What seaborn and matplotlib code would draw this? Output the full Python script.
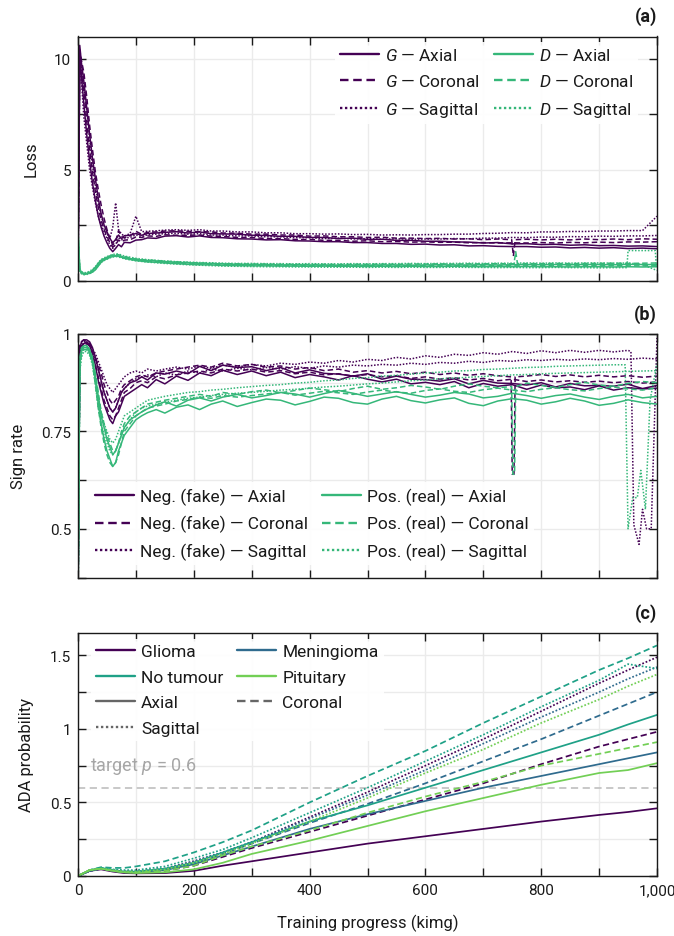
import matplotlib
matplotlib.use("Agg")
import matplotlib.pyplot as plt
import pandas as pd
import seaborn as sns
from matplotlib.lines import Line2D
from matplotlib.ticker import FuncFormatter, MultipleLocator

# ---------------------------------------------------------------- data
# training progress (kimg) at which the loss / sign-rate curves are sampled
KIMG = [0, 3, 6, 10, 15, 20, 25, 30, 35, 40,
        45, 50, 55, 60, 65, 70, 75, 80, 90, 100,
        110, 120, 135, 150, 170, 190, 210, 230, 250, 275,
        300, 325, 350, 375, 400, 425, 450, 475, 500, 525,
        550, 575, 600, 625, 650, 675, 700, 725, 750, 775,
        800, 825, 850, 875, 900, 925, 950, 975, 1000]

# (a) generator loss, two runs per plane
G_AXIAL_1 = [0.3, 10.1, 9.2, 8.0, 6.6, 5.4, 4.4, 3.6, 2.9, 2.4,
             2.0, 1.7, 1.45, 1.3, 1.45, 1.62, 1.52, 1.72, 1.7, 1.82,
             1.84, 1.92, 1.9, 2.0, 2.02, 1.96, 2.01, 1.94, 1.93, 1.88,
             1.87, 1.83, 1.84, 1.79, 1.78, 1.75, 1.75, 1.71, 1.71, 1.67,
             1.67, 1.63, 1.64, 1.6, 1.61, 1.56, 1.57, 1.54, 1.53, 1.53,
             1.5, 1.51, 1.47, 1.49, 1.46, 1.48, 1.44, 1.46, 1.43]
G_AXIAL_2 = [0.2, 10.6, 9.8, 9.0, 7.8, 6.6, 5.5, 4.6, 3.7, 3.0,
             2.5, 2.2, 1.9, 1.7, 1.85, 2.05, 1.88, 2.02, 2.04, 2.12,
             2.04, 2.12, 2.14, 2.17, 2.2, 2.14, 2.19, 2.11, 2.1, 2.09,
             2.04, 2.03, 1.99, 1.99, 1.94, 1.94, 1.89, 1.91, 1.85, 1.86,
             1.81, 1.81, 1.77, 1.77, 1.74, 1.73, 1.69, 1.71, 1.65, 1.66,
             1.62, 1.63, 1.59, 1.61, 1.57, 1.58, 1.55, 1.56, 1.53]
G_CORONAL_1 = [0.3, 10.4, 9.9, 9.4, 8.3, 7.0, 5.9, 4.9, 4.1, 3.4,
               2.8, 2.3, 1.9, 1.6, 1.75, 2.25, 1.98, 1.92, 2.02, 2.22,
               2.08, 2.17, 2.19, 2.23, 2.24, 2.21, 2.2, 2.19, 2.14, 2.13,
               2.09, 2.09, 2.05, 2.05, 2.0, 2.01, 1.97, 1.97, 1.94, 1.95,
               1.91, 1.91, 1.89, 1.9, 1.87, 1.88, 1.84, 1.87, 1.84, 1.86,
               1.83, 1.86, 1.83, 1.87, 1.84, 1.87, 1.84, 1.88, 1.86]
G_CORONAL_2 = [0.4, 9.6, 9.3, 8.6, 7.2, 5.9, 4.9, 4.0, 3.3, 2.7,
               2.3, 2.0, 1.7, 1.5, 1.62, 1.82, 1.74, 1.82, 1.84, 1.96,
               1.94, 2.01, 1.99, 2.06, 2.04, 2.04, 2.05, 2.0, 1.99, 1.94,
               1.94, 1.89, 1.89, 1.85, 1.85, 1.81, 1.81, 1.77, 1.79, 1.75,
               1.76, 1.73, 1.74, 1.72, 1.73, 1.7, 1.71, 1.69, 1.7, 1.69,
               1.71, 1.69, 1.72, 1.7, 1.73, 1.71, 1.74, 1.73, 1.75]
G_SAGITTAL_1 = [0.2, 10.2, 9.6, 8.8, 7.7, 6.4, 5.2, 4.3, 3.5, 2.9,
                2.5, 2.1, 1.9, 2.4, 3.5, 2.3, 2.1, 2.0, 2.12, 2.9,
                2.2, 2.22, 2.24, 2.27, 2.29, 2.26, 2.29, 2.23, 2.23, 2.19,
                2.19, 2.15, 2.15, 2.11, 2.11, 2.09, 2.1, 2.07, 2.08, 2.05,
                2.06, 2.05, 2.07, 2.07, 2.09, 2.09, 2.12, 2.13, 2.16, 2.15,
                2.19, 2.19, 2.21, 2.21, 2.23, 2.23, 2.25, 2.25, 2.9]
G_SAGITTAL_2 = [0.3, 9.9, 9.0, 7.4, 6.2, 5.0, 4.2, 3.5, 2.9, 2.5,
                2.2, 1.9, 1.6, 1.45, 1.62, 1.92, 1.84, 1.92, 1.94, 2.06,
                1.99, 2.06, 2.09, 2.11, 2.13, 2.09, 2.11, 2.05, 2.05, 2.01,
                2.01, 1.97, 1.97, 1.93, 1.93, 1.89, 1.91, 1.87, 1.89, 1.86,
                1.88, 1.86, 1.87, 1.87, 1.89, 1.88, 1.91, 1.91, 1.94, 1.93,
                1.96, 1.95, 1.98, 1.97, 2.0, 1.99, 2.01, 2.01, 2.03]

# (a) discriminator loss
D_AXIAL_1 = [2.2, 0.45, 0.33, 0.28, 0.3, 0.36, 0.45, 0.6, 0.78, 0.92,
             0.98, 1.05, 1.1, 1.14, 1.12, 1.1, 1.05, 1.02, 0.98, 0.95,
             0.92, 0.9, 0.88, 0.85, 0.82, 0.8, 0.78, 0.76, 0.75, 0.73,
             0.72, 0.72, 0.7, 0.71, 0.7, 0.7, 0.69, 0.7, 0.69, 0.7,
             0.7, 0.69, 0.7, 0.71, 0.7, 0.7, 0.71, 0.7, 0.71, 0.72,
             0.71, 0.72, 0.71, 0.72, 0.72, 0.71, 0.73, 0.72, 0.72]
D_AXIAL_2 = [2.0, 0.5, 0.38, 0.32, 0.31, 0.33, 0.38, 0.48, 0.65, 0.82,
             0.92, 0.98, 1.04, 1.08, 1.1, 1.09, 1.06, 1.0, 0.95, 0.9,
             0.87, 0.84, 0.82, 0.79, 0.76, 0.73, 0.71, 0.7, 0.68, 0.67,
             0.66, 0.66, 0.65, 0.65, 0.64, 0.65, 0.64, 0.64, 0.63, 0.64,
             0.63, 0.64, 0.63, 0.63, 0.64, 0.63, 0.62, 0.63, 0.62, 0.63,
             0.62, 0.62, 0.61, 0.62, 0.62, 0.61, 0.62, 0.61, 0.62]
D_CORONAL_1 = [2.3, 0.55, 0.36, 0.3, 0.29, 0.32, 0.4, 0.52, 0.7, 0.86,
               0.96, 1.04, 1.1, 1.15, 1.18, 1.16, 1.12, 1.08, 1.02, 0.97,
               0.94, 0.92, 0.9, 0.87, 0.84, 0.81, 0.79, 0.77, 0.76, 0.75,
               0.74, 0.74, 0.73, 0.73, 0.72, 0.73, 0.72, 0.73, 0.73, 0.74,
               0.73, 0.74, 0.74, 0.75, 0.74, 0.75, 0.75, 0.76, 0.75, 0.76,
               0.76, 0.77, 0.76, 0.77, 0.77, 0.78, 0.77, 0.78, 0.79]
D_CORONAL_2 = [2.1, 0.48, 0.34, 0.3, 0.32, 0.38, 0.46, 0.58, 0.74, 0.88,
               0.95, 1.0, 1.06, 1.1, 1.12, 1.12, 1.08, 1.04, 0.99, 0.95,
               0.91, 0.89, 0.86, 0.83, 0.8, 0.77, 0.75, 0.73, 0.71, 0.7,
               0.69, 0.68, 0.68, 0.67, 0.67, 0.66, 0.67, 0.66, 0.66, 0.67,
               0.66, 0.66, 0.67, 0.66, 0.66, 0.67, 0.66, 0.67, 0.66, 0.66,
               0.67, 0.66, 0.66, 0.67, 0.66, 0.67, 0.66, 0.66, 0.67]
D_SAGITTAL_1 = [2.2, 0.42, 0.3, 0.26, 0.27, 0.31, 0.38, 0.5, 0.66, 0.82,
                0.9, 0.96, 1.02, 1.06, 1.08, 1.06, 1.02, 0.98, 0.93, 0.89,
                0.86, 0.83, 0.8, 0.77, 0.74, 0.71, 0.69, 0.67, 0.65, 0.64,
                0.63, 0.62, 0.62, 0.61, 0.61, 0.6, 0.6, 0.6, 0.59, 0.6,
                0.59, 0.6, 0.59, 0.59, 0.6, 0.59, 0.59, 0.58, 0.59, 0.58,
                0.58, 0.59, 0.58, 0.58, 0.57, 0.58, 0.57, 0.57, 0.56]
D_SAGITTAL_2 = [2.4, 0.52, 0.4, 0.35, 0.36, 0.42, 0.5, 0.62, 0.8, 0.95,
                1.02, 1.08, 1.13, 1.17, 1.2, 1.19, 1.15, 1.1, 1.05, 1.0,
                0.97, 0.94, 0.91, 0.88, 0.85, 0.83, 0.81, 0.8, 0.78, 0.77,
                0.77, 0.76, 0.76, 0.75, 0.76, 0.75, 0.75, 0.76, 0.75, 0.76,
                0.76, 0.77, 0.76, 0.77, 0.77, 0.78, 0.77, 0.78, 0.78, 0.79,
                0.78, 0.79, 0.78, 0.79, 0.79, 0.78, 0.79, 0.72, 0.45]

# (b) discriminator sign rate on fake images
NEG_AXIAL_1 = [0.3, 0.95, 0.97, 0.975, 0.98, 0.97, 0.95, 0.92, 0.88, 0.85,
               0.82, 0.8, 0.78, 0.77, 0.79, 0.8, 0.82, 0.84, 0.85, 0.86,
               0.87, 0.862, 0.883, 0.872, 0.892, 0.881, 0.9, 0.893, 0.907, 0.896,
               0.905, 0.893, 0.902, 0.888, 0.896, 0.89, 0.882, 0.893, 0.884, 0.877,
               0.884, 0.872, 0.876, 0.87, 0.878, 0.862, 0.873, 0.866, 0.87, 0.858,
               0.869, 0.862, 0.864, 0.857, 0.867, 0.856, 0.862, 0.859, 0.861]
NEG_AXIAL_2 = [0.3, 0.96, 0.98, 0.985, 0.985, 0.98, 0.965, 0.94, 0.91, 0.88,
               0.85, 0.83, 0.81, 0.8, 0.81, 0.83, 0.85, 0.86, 0.875, 0.88,
               0.89, 0.882, 0.9, 0.897, 0.905, 0.898, 0.917, 0.906, 0.92, 0.914,
               0.916, 0.906, 0.914, 0.9, 0.908, 0.899, 0.897, 0.892, 0.898, 0.884,
               0.892, 0.884, 0.883, 0.879, 0.885, 0.872, 0.881, 0.874, 0.873, 0.869,
               0.875, 0.864, 0.873, 0.867, 0.868, 0.866, 0.871, 0.86, 0.868]
NEG_CORONAL_1 = [0.3, 0.97, 0.98, 0.985, 0.98, 0.975, 0.96, 0.94, 0.92, 0.9,
                 0.87, 0.85, 0.83, 0.82, 0.83, 0.84, 0.86, 0.87, 0.88, 0.89,
                 0.895, 0.89, 0.9, 0.905, 0.91, 0.915, 0.92, 0.915, 0.925, 0.918,
                 0.922, 0.915, 0.918, 0.91, 0.914, 0.906, 0.91, 0.902, 0.906, 0.9,
                 0.904, 0.898, 0.902, 0.896, 0.9, 0.894, 0.898, 0.893, 0.897, 0.892,
                 0.896, 0.891, 0.895, 0.89, 0.894, 0.89, 0.893, 0.889, 0.892]
NEG_CORONAL_2 = [0.3, 0.94, 0.965, 0.975, 0.975, 0.97, 0.95, 0.92, 0.89, 0.86,
                 0.83, 0.81, 0.79, 0.78, 0.79, 0.81, 0.83, 0.85, 0.86, 0.875,
                 0.88, 0.875, 0.89, 0.885, 0.895, 0.9, 0.905, 0.9, 0.91, 0.905,
                 0.91, 0.902, 0.906, 0.898, 0.902, 0.895, 0.898, 0.892, 0.896, 0.89,
                 0.893, 0.886, 0.89, 0.884, 0.888, 0.882, 0.886, 0.88, 0.884, 0.878,
                 0.882, 0.877, 0.88, 0.876, 0.879, 0.875, 0.878, 0.874, 0.877]
NEG_SAGITTAL_1 = [0.3, 0.96, 0.975, 0.98, 0.98, 0.975, 0.96, 0.95, 0.93, 0.91,
                  0.89, 0.87, 0.86, 0.85, 0.86, 0.87, 0.88, 0.89, 0.9, 0.905,
                  0.9, 0.91, 0.905, 0.91, 0.915, 0.91, 0.918, 0.912, 0.92, 0.915,
                  0.922, 0.918, 0.925, 0.922, 0.928, 0.925, 0.932, 0.928, 0.935, 0.932,
                  0.94, 0.936, 0.944, 0.94, 0.948, 0.945, 0.952, 0.948, 0.955, 0.95,
                  0.957, 0.952, 0.958, 0.953, 0.958, 0.954, 0.958, 0.955, 0.957]
NEG_SAGITTAL_2 = [0.3, 0.95, 0.97, 0.975, 0.975, 0.97, 0.955, 0.935, 0.91, 0.88,
                  0.85, 0.83, 0.81, 0.8, 0.81, 0.83, 0.85, 0.86, 0.875, 0.885,
                  0.89, 0.895, 0.89, 0.9, 0.895, 0.905, 0.9, 0.91, 0.905, 0.912,
                  0.908, 0.914, 0.91, 0.916, 0.912, 0.918, 0.915, 0.92, 0.918, 0.922,
                  0.92, 0.925, 0.922, 0.927, 0.925, 0.93, 0.927, 0.932, 0.93, 0.934,
                  0.932, 0.935, 0.933, 0.936, 0.934, 0.937, 0.935, 0.938, 0.936]

# (b) discriminator sign rate on real images
POS_AXIAL_1 = [0.3, 0.92, 0.955, 0.965, 0.965, 0.955, 0.93, 0.88, 0.82, 0.77,
               0.73, 0.7, 0.68, 0.66, 0.67, 0.7, 0.72, 0.74, 0.76, 0.78,
               0.79, 0.798, 0.806, 0.797, 0.812, 0.818, 0.806, 0.82, 0.828, 0.814,
               0.824, 0.833, 0.83, 0.818, 0.827, 0.838, 0.835, 0.824, 0.82, 0.833,
               0.84, 0.829, 0.823, 0.831, 0.836, 0.822, 0.816, 0.828, 0.834, 0.83,
               0.82, 0.826, 0.835, 0.828, 0.817, 0.822, 0.831, 0.824, 0.82]
POS_AXIAL_2 = [0.3, 0.93, 0.96, 0.97, 0.97, 0.96, 0.935, 0.89, 0.84, 0.79,
               0.76, 0.73, 0.71, 0.69, 0.7, 0.72, 0.74, 0.76, 0.78, 0.79,
               0.8, 0.808, 0.818, 0.826, 0.815, 0.83, 0.836, 0.828, 0.838, 0.845,
               0.836, 0.842, 0.85, 0.846, 0.838, 0.847, 0.855, 0.848, 0.84, 0.846,
               0.852, 0.845, 0.838, 0.843, 0.85, 0.846, 0.836, 0.84, 0.848, 0.842,
               0.835, 0.842, 0.846, 0.838, 0.832, 0.84, 0.845, 0.836, 0.84]
POS_CORONAL_1 = [0.3, 0.94, 0.965, 0.97, 0.97, 0.96, 0.94, 0.9, 0.85, 0.8,
                 0.77, 0.74, 0.72, 0.7, 0.7, 0.72, 0.75, 0.77, 0.79, 0.8,
                 0.81, 0.82, 0.825, 0.83, 0.835, 0.84, 0.845, 0.84, 0.85, 0.845,
                 0.852, 0.856, 0.849, 0.855, 0.861, 0.857, 0.852, 0.86, 0.866, 0.858,
                 0.862, 0.868, 0.864, 0.858, 0.866, 0.872, 0.866, 0.862, 0.87, 0.874,
                 0.868, 0.863, 0.87, 0.876, 0.869, 0.866, 0.873, 0.878, 0.875]
POS_CORONAL_2 = [0.3, 0.91, 0.95, 0.96, 0.96, 0.95, 0.925, 0.87, 0.81, 0.76,
                 0.72, 0.69, 0.67, 0.66, 0.67, 0.69, 0.72, 0.75, 0.77, 0.79,
                 0.8, 0.81, 0.815, 0.82, 0.828, 0.832, 0.838, 0.835, 0.842, 0.838,
                 0.842, 0.846, 0.85, 0.843, 0.848, 0.853, 0.849, 0.845, 0.851, 0.856,
                 0.851, 0.848, 0.855, 0.859, 0.853, 0.85, 0.857, 0.861, 0.856, 0.852,
                 0.858, 0.862, 0.857, 0.854, 0.86, 0.864, 0.859, 0.856, 0.862]
POS_SAGITTAL_1 = [0.3, 0.92, 0.95, 0.96, 0.96, 0.95, 0.93, 0.89, 0.84, 0.8,
                  0.77, 0.75, 0.73, 0.72, 0.73, 0.75, 0.77, 0.79, 0.8, 0.81,
                  0.82, 0.83, 0.835, 0.84, 0.845, 0.85, 0.852, 0.856, 0.858, 0.862,
                  0.865, 0.868, 0.87, 0.874, 0.876, 0.88, 0.882, 0.886, 0.888, 0.892,
                  0.894, 0.897, 0.9, 0.902, 0.905, 0.906, 0.909, 0.91, 0.912, 0.914,
                  0.915, 0.917, 0.918, 0.919, 0.92, 0.921, 0.922, 0.923, 0.924]
POS_SAGITTAL_2 = [0.3, 0.9, 0.94, 0.955, 0.955, 0.945, 0.92, 0.87, 0.81, 0.77,
                  0.74, 0.72, 0.7, 0.69, 0.7, 0.72, 0.74, 0.76, 0.78, 0.8,
                  0.81, 0.815, 0.82, 0.825, 0.83, 0.835, 0.838, 0.842, 0.845, 0.848,
                  0.85, 0.853, 0.856, 0.858, 0.861, 0.864, 0.866, 0.869, 0.872, 0.874,
                  0.877, 0.88, 0.882, 0.885, 0.887, 0.889, 0.891, 0.893, 0.895, 0.896,
                  0.898, 0.899, 0.9, 0.901, 0.902, 0.903, 0.904, 0.905, 0.906]

# short excursions logged between the regular samples: (kimg, value)
LOSS_EVENTS = {
    ("G", "Coronal", 1): [(749, 1.84), (752, 1.1), (755, 1.84)],
    ("D", "Coronal", 1): [(753, 0.76), (756, 1.3), (759, 0.76)],
    ("D", "Sagittal", 1): [(948, 0.58), (950, 1.35), (997, 1.35), (999, 0.6)],
}
SIGN_EVENTS = {
    ("Neg", "Coronal", 1): [(748, 0.89), (750, 0.64), (753, 0.64), (755, 0.89)],
    ("Pos", "Coronal", 1): [(749, 0.865), (751, 0.64), (754, 0.64), (756, 0.865)],
    ("Neg", "Sagittal", 1): [(955, 0.955), (960, 0.51), (969, 0.46), (975, 0.55),
                             (982, 0.5), (990, 0.5), (1000, 0.99)],
    ("Pos", "Sagittal", 1): [(945, 0.921), (950, 0.5), (958, 0.58), (966, 0.58),
                             (972, 0.65), (980, 0.55), (988, 0.83), (1000, 0.924)],
}

# (c) augmentation probability per tumour class and plane
ADA_KIMG = [0, 20, 40, 60, 80, 100, 150, 200, 250, 300,
            400, 500, 600, 700, 800, 900, 950, 1000]
GLIOMA_AXIAL = [0, 0.035, 0.045, 0.03, 0.02, 0.018, 0.02, 0.035, 0.07, 0.1,
                0.16, 0.22, 0.27, 0.32, 0.37, 0.415, 0.435, 0.46]
GLIOMA_CORONAL = [0, 0.035, 0.05, 0.035, 0.025, 0.025, 0.035, 0.07, 0.13, 0.19,
                  0.3, 0.41, 0.52, 0.63, 0.76, 0.88, 0.93, 0.98]
GLIOMA_SAGITTAL = [0, 0.035, 0.05, 0.04, 0.03, 0.03, 0.05, 0.1, 0.16, 0.23,
                   0.4, 0.57, 0.75, 0.93, 1.12, 1.31, 1.4, 1.487]
MENINGIOMA_AXIAL = [0, 0.035, 0.05, 0.035, 0.025, 0.025, 0.04, 0.08, 0.14, 0.2,
                    0.32, 0.42, 0.51, 0.6, 0.68, 0.76, 0.8, 0.84]
MENINGIOMA_CORONAL = [0, 0.035, 0.05, 0.04, 0.03, 0.03, 0.045, 0.09, 0.15, 0.22,
                      0.36, 0.49, 0.63, 0.78, 0.93, 1.09, 1.17, 1.25]
MENINGIOMA_SAGITTAL = [0, 0.035, 0.05, 0.04, 0.03, 0.03, 0.05, 0.1, 0.16, 0.23,
                       0.39, 0.55, 0.72, 0.9, 1.08, 1.25, 1.34, 1.42]
NOTUMOUR_AXIAL = [0, 0.04, 0.055, 0.04, 0.03, 0.03, 0.05, 0.09, 0.16, 0.23,
                  0.37, 0.48, 0.6, 0.72, 0.84, 0.96, 1.03, 1.095]
NOTUMOUR_CORONAL = [0, 0.04, 0.06, 0.055, 0.055, 0.065, 0.1, 0.16, 0.23, 0.31,
                    0.5, 0.68, 0.85, 1.04, 1.22, 1.4, 1.48, 1.567]
NOTUMOUR_SAGITTAL = [0, 0.04, 0.055, 0.045, 0.04, 0.04, 0.065, 0.12, 0.18, 0.26,
                     0.43, 0.6, 0.78, 0.96, 1.15, 1.33, 1.44, 1.41]
PITUITARY_AXIAL = [0, 0.04, 0.05, 0.035, 0.025, 0.02, 0.025, 0.045, 0.09, 0.15,
                   0.24, 0.34, 0.44, 0.53, 0.62, 0.7, 0.72, 0.767]
PITUITARY_CORONAL = [0, 0.04, 0.05, 0.035, 0.025, 0.025, 0.035, 0.07, 0.14, 0.2,
                     0.31, 0.43, 0.54, 0.64, 0.75, 0.83, 0.87, 0.91]
PITUITARY_SAGITTAL = [0, 0.04, 0.05, 0.04, 0.03, 0.03, 0.045, 0.09, 0.15, 0.22,
                      0.37, 0.53, 0.7, 0.86, 1.04, 1.2, 1.29, 1.37]
ADA_TARGET = 0.6

PLANES = ["Axial", "Coronal", "Sagittal"]
CLASSES = ["Glioma", "Meningioma", "No tumour", "Pituitary"]

# ---------------------------------------------------------------- style
PURPLE = "#440154"
GREEN = "#35b779"
CLASS_COLORS = {"Glioma": "#440154", "Meningioma": "#2f6b8e",
                "No tumour": "#1fa187", "Pituitary": "#72cf55"}
DASHES = {"Axial": "", "Coronal": (3.6, 2.0), "Sagittal": (1.0, 1.1)}
FONT = "Roboto"
LEGEND_SIZE = 12.5

sns.set_theme(style="white")
plt.rcParams.update({
    "font.family": [FONT, "DejaVu Sans"],
    "font.size": 12.5,
    "mathtext.fontset": "custom",
    "mathtext.rm": FONT,
    "mathtext.it": f"{FONT}:italic",
    "axes.edgecolor": "#1a1a1a",
    "axes.linewidth": 1.0,
    "text.color": "#1a1a1a",
    "axes.labelcolor": "#1a1a1a",
    "xtick.color": "#1a1a1a",
    "ytick.color": "#1a1a1a",
})


def long_frame(curves, events, value):
    rows = []
    for (group, plane, run), ys in curves.items():
        if len(ys) != len(KIMG):
            raise ValueError(f"{group} {plane} {run}: {len(ys)} values")
        pts = dict(zip(KIMG, ys))
        extra = events.get((group, plane, run))
        if extra:
            lo = min(p[0] for p in extra)
            hi = max(p[0] for p in extra)
            pts = {k: v for k, v in pts.items() if not lo <= k <= hi}
            pts.update(dict(extra))
        for k in sorted(pts):
            rows.append((group, plane, f"{group}-{plane}-{run}", k, pts[k]))
    return pd.DataFrame(rows, columns=["group", "plane", "run", "kimg", value])


def style_axes(ax, ylim, ystep, ylabel_step, xlabels):
    ax.set_xlim(0, 1000)
    ax.set_ylim(*ylim)
    ax.xaxis.set_major_locator(MultipleLocator(100))
    ax.yaxis.set_major_locator(MultipleLocator(ystep))
    ax.yaxis.set_major_formatter(FuncFormatter(
        lambda v, p: f"{v:g}" if abs(v / ylabel_step - round(v / ylabel_step)) < 1e-6 else ""))
    if xlabels:
        ax.xaxis.set_major_formatter(FuncFormatter(
            lambda v, p: f"{int(round(v)):,}" if round(v) % 200 == 0 else ""))
    ax.tick_params(axis="both", which="major", direction="in", length=6, width=1.0,
                   top=True, right=True, bottom=True, left=True,
                   labelbottom=xlabels, pad=5)
    ax.grid(True, color="#ebebeb", linewidth=1.0)
    ax.set_axisbelow(True)
    ax.set_xlabel("")


def legend(ax, handles, labels, **kw):
    leg = ax.legend(handles, labels, ncol=2, frameon=True, fancybox=False,
                    facecolor="white", edgecolor="none", framealpha=0.92,
                    fontsize=LEGEND_SIZE, handlelength=2.25, handletextpad=0.35,
                    columnspacing=0.8, labelspacing=0.6, borderpad=0.3,
                    borderaxespad=0.0, **kw)
    return leg


def handle(color, plane, lw=1.7):
    d = DASHES[plane]
    h = Line2D([], [], color=color, lw=lw)
    if d:
        h.set_dashes(d)
    return h


fig = plt.figure(figsize=(6.74, 9.37), dpi=100)
W, H = 674.0, 937.0
L, R = 78.0, 657.0


def axes_at(top, bottom):
    return fig.add_axes([L / W, 1 - bottom / H, (R - L) / W, (bottom - top) / H])


# ---------------------------------------------------------------- (a) loss
ax_a = axes_at(37.5, 281.5)
loss_curves = {
    ("G", "Axial", 1): G_AXIAL_1, ("G", "Axial", 2): G_AXIAL_2,
    ("G", "Coronal", 1): G_CORONAL_1, ("G", "Coronal", 2): G_CORONAL_2,
    ("G", "Sagittal", 1): G_SAGITTAL_1, ("G", "Sagittal", 2): G_SAGITTAL_2,
    ("D", "Axial", 1): D_AXIAL_1, ("D", "Axial", 2): D_AXIAL_2,
    ("D", "Coronal", 1): D_CORONAL_1, ("D", "Coronal", 2): D_CORONAL_2,
    ("D", "Sagittal", 1): D_SAGITTAL_1, ("D", "Sagittal", 2): D_SAGITTAL_2,
}
loss_df = long_frame(loss_curves, LOSS_EVENTS, "loss")
sns.lineplot(data=loss_df, x="kimg", y="loss", hue="group", style="plane",
             units="run", estimator=None, palette={"G": PURPLE, "D": GREEN},
             dashes=DASHES, style_order=PLANES, legend=False, lw=1.1, ax=ax_a)
style_axes(ax_a, (0, 11), 2.5, 5, False)
ax_a.set_ylabel("Loss", labelpad=11)
legend(ax_a,
       [handle(PURPLE, p) for p in PLANES] + [handle(GREEN, p) for p in PLANES],
       [f"$G$ — {p}" for p in PLANES] + [f"$D$ — {p}" for p in PLANES],
       loc="upper right", bbox_to_anchor=(0.968, 0.978))

# ---------------------------------------------------------------- (b) sign rate
ax_b = axes_at(335.0, 578.5)
sign_curves = {
    ("Neg", "Axial", 1): NEG_AXIAL_1, ("Neg", "Axial", 2): NEG_AXIAL_2,
    ("Neg", "Coronal", 1): NEG_CORONAL_1, ("Neg", "Coronal", 2): NEG_CORONAL_2,
    ("Neg", "Sagittal", 1): NEG_SAGITTAL_1, ("Neg", "Sagittal", 2): NEG_SAGITTAL_2,
    ("Pos", "Axial", 1): POS_AXIAL_1, ("Pos", "Axial", 2): POS_AXIAL_2,
    ("Pos", "Coronal", 1): POS_CORONAL_1, ("Pos", "Coronal", 2): POS_CORONAL_2,
    ("Pos", "Sagittal", 1): POS_SAGITTAL_1, ("Pos", "Sagittal", 2): POS_SAGITTAL_2,
}
sign_df = long_frame(sign_curves, SIGN_EVENTS, "rate")
sns.lineplot(data=sign_df, x="kimg", y="rate", hue="group", style="plane",
             units="run", estimator=None, palette={"Neg": PURPLE, "Pos": GREEN},
             dashes=DASHES, style_order=PLANES, legend=False, lw=1.1, ax=ax_b)
style_axes(ax_b, (0.375, 1.0), 0.125, 0.25, False)
ax_b.set_ylabel("Sign rate", labelpad=11)
legend(ax_b,
       [handle(PURPLE, p) for p in PLANES] + [handle(GREEN, p) for p in PLANES],
       [f"Neg. (fake) — {p}" for p in PLANES] + [f"Pos. (real) — {p}" for p in PLANES],
       loc="lower left", bbox_to_anchor=(0.02, 0.05))

# ---------------------------------------------------------------- (c) ADA p
ax_c = axes_at(633.5, 877.0)
ada_curves = {
    ("Glioma", "Axial"): GLIOMA_AXIAL, ("Glioma", "Coronal"): GLIOMA_CORONAL,
    ("Glioma", "Sagittal"): GLIOMA_SAGITTAL,
    ("Meningioma", "Axial"): MENINGIOMA_AXIAL, ("Meningioma", "Coronal"): MENINGIOMA_CORONAL,
    ("Meningioma", "Sagittal"): MENINGIOMA_SAGITTAL,
    ("No tumour", "Axial"): NOTUMOUR_AXIAL, ("No tumour", "Coronal"): NOTUMOUR_CORONAL,
    ("No tumour", "Sagittal"): NOTUMOUR_SAGITTAL,
    ("Pituitary", "Axial"): PITUITARY_AXIAL, ("Pituitary", "Coronal"): PITUITARY_CORONAL,
    ("Pituitary", "Sagittal"): PITUITARY_SAGITTAL,
}
ada_df = pd.DataFrame(
    [(cls, plane, k, v) for (cls, plane), ys in ada_curves.items()
     for k, v in zip(ADA_KIMG, ys)],
    columns=["cls", "plane", "kimg", "p"])
ax_c.axhline(ADA_TARGET, color="#c4c4c4", lw=1.3, dashes=(4, 2.5), zorder=1)
ax_c.text(20, 0.75, f"target $p$ = {ADA_TARGET:g}", color="#a6a6a6",
          va="center", ha="left", fontsize=LEGEND_SIZE + 0.5)
sns.lineplot(data=ada_df, x="kimg", y="p", hue="cls", style="plane",
             estimator=None, palette=CLASS_COLORS, hue_order=CLASSES,
             dashes=DASHES, style_order=PLANES, legend=False, lw=1.25, ax=ax_c)
style_axes(ax_c, (0, 1.655), 0.25, 0.5, True)
ax_c.set_ylabel("ADA probability", labelpad=11)
ax_c.set_xlabel("Training progress (kimg)", labelpad=12)
GRAY = "#666666"
c_handles = [handle(CLASS_COLORS["Glioma"], "Axial"),
             handle(CLASS_COLORS["No tumour"], "Axial"),
             handle(GRAY, "Axial"), handle(GRAY, "Sagittal"),
             handle(CLASS_COLORS["Meningioma"], "Axial"),
             handle(CLASS_COLORS["Pituitary"], "Axial"),
             handle(GRAY, "Coronal")]
c_labels = ["Glioma", "No tumour", "Axial", "Sagittal",
            "Meningioma", "Pituitary", "Coronal"]
legend(ax_c, c_handles, c_labels, loc="upper left", bbox_to_anchor=(0.022, 0.974))

# ---------------------------------------------------------------- panel tags
for tag, y in (("(a)", 17), ("(b)", 315), ("(c)", 614)):
    fig.text(R / W, 1 - y / H, tag, ha="right", va="center", fontweight="bold",
             fontsize=13)

fig.savefig("out.png", dpi=100)
